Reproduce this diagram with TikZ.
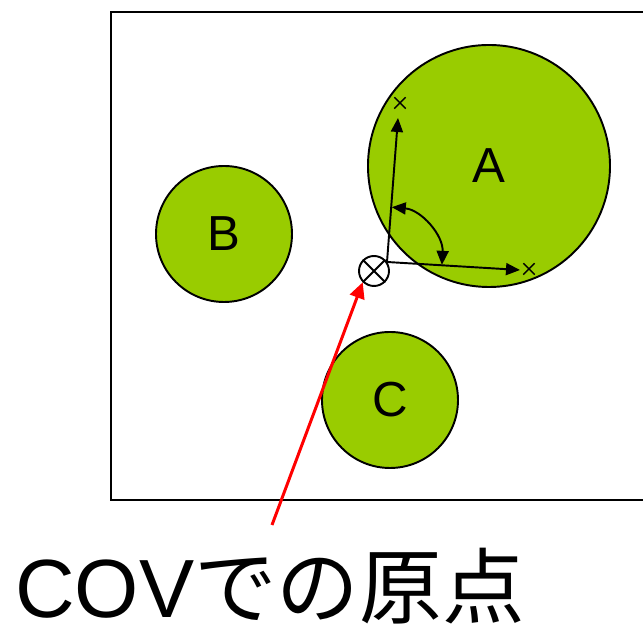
\documentclass[tikz,border=0pt]{standalone}
\usepackage{fontspec}
\setmainfont{Liberation Sans}
\newfontfamily\jpfont{Noto Sans CJK JP}
\usepackage{tikz}
\usetikzlibrary{calc, positioning, arrows.meta, shapes.misc}
\definecolor{leaf}{HTML}{99CC00}

\begin{document}
\begin{tikzpicture}[
  font=\fontsize{28}{32}\selectfont,
  blob/.style={circle, draw, line width=1.1pt, fill=leaf, inner sep=0pt},
  xmark/.style={cross out, draw, line width=0.8pt, minimum size=0.2cm, inner sep=0pt},
  axis/.style={-{Triangle[length=2.8mm, width=2.4mm]}, line width=1.1pt},
  turn/.style={{Triangle[length=2.8mm, width=2.4mm]}-{Triangle[length=2.8mm, width=2.4mm]}, line width=1.1pt},
  ptr/.style={-{Triangle[length=3.2mm, width=3mm]}, red, line width=1.7pt}
]
  \clip (0,0) rectangle (12.86,12.56);
  \draw[line width=0.9pt] (2.22,2.56) rectangle (13.5,12.32);

  \node[blob, minimum size=4.84cm] (A) at (9.78,9.24) {A};
  \node[blob, minimum size=2.72cm] (B) at (4.48,7.88) {B};
  \node[blob, minimum size=2.72cm] (C) at (7.80,4.56) {C};

  % origin marker
  \node[circle, draw, line width=1.1pt, fill=white, minimum size=0.6cm, inner sep=0pt] (o) at (7.48,7.14) {};
  \draw[line width=1.1pt] (o.45) -- (o.225) (o.135) -- (o.-45);

  % local axes
  \coordinate (ax0) at (7.74,7.32);
  \coordinate (ytip) at (7.96,10.20);
  \coordinate (xtip) at (10.40,7.16);
  \node[xmark] (ym) at (8.00,10.50) {};
  \node[xmark] (xm) at (10.58,7.18) {};
  \draw[axis] (ax0) -- (ytip);
  \draw[axis] (ax0) -- (xtip);
  \draw[turn] ($(ax0)+(85:1.1)$) arc[start angle=85, end angle=-3, radius=1.1];

  \node[anchor=base west, inner sep=0pt, font=\fontsize{47}{50}\selectfont] (lbl) at (0.30,0.20) {COV{\jpfont での原点}};
  \coordinate (tail) at (5.44,2.06);
  \draw[ptr] (tail) -- (o.225);
\end{tikzpicture}
\end{document}
